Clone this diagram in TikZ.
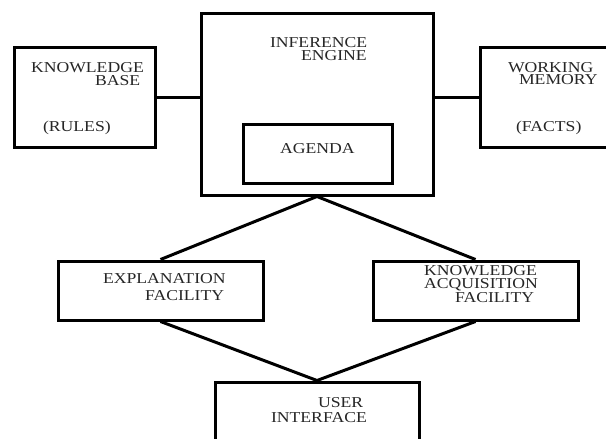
\documentclass[tikz,border=0pt]{standalone}
\usepackage{fontspec}
\newfontfamily\lblfont[FakeStretch=1.17]{Liberation Serif}
\begin{document}
\begin{tikzpicture}[x=1pt, y=-1pt,
  box/.style={draw=black, line width=3pt, rectangle, inner sep=0pt, fill=none},
  link/.style={draw=black, line width=3pt},
  txt/.style={anchor=base west, inner sep=0pt, outer sep=0pt,
    text height=10pt, text depth=0pt,
    font=\lblfont\fontsize{15.1}{15}\selectfont, text=black!85}]
  \useasboundingbox (0,0) rectangle (606,439);
  \clip (0,0) rectangle (606,439);
  \fill[white] (0,0) rectangle (606,439);

  % boxes
  \node[box, minimum width=141pt, minimum height=100pt] (kb)  at (84.5,97) {};
  \node[box, minimum width=232pt, minimum height=182pt] (ie)  at (317,104) {};
  \node[box, minimum width=142pt, minimum height=100pt] (wm)  at (551,97) {};
  \node[box, minimum width=149pt, minimum height=59pt]  (ag)  at (317.5,153.5) {};
  \node[box, minimum width=205pt, minimum height=59pt]  (ex)  at (160.5,290.5) {};
  \node[box, minimum width=205pt, minimum height=59pt]  (kaf) at (475.5,290.5) {};
  \node[box, minimum width=204pt, minimum height=80pt]  (ui)  at (317,422) {};

  % connectors
  \draw[link] (kb.east) -- (kb.east -| ie.west);
  \draw[link] (ie.east |- wm.west) -- (wm.west);
  \draw[link, line join=miter] (ex.north) -- (ie.south) -- (kaf.north);
  \draw[link, line join=miter] (ex.south) -- (ui.north) -- (kaf.south);

  % labels
  \node[txt] (t1)  at (270,47)  {INFERENCE};
  \node[txt] (t2)  at (301,60)  {ENGINE};
  \node[txt] (t3)  at (31,72)   {KNOWLEDGE};
  \node[txt] (t4)  at (95,85)   {BASE};
  \node[txt] (t5)  at (43,131)  {(RULES)};
  \node[txt] (t6)  at (508,72)  {WORKING};
  \node[txt] (t7)  at (519,84)  {MEMORY};
  \node[txt] (t8)  at (516,131) {(FACTS)};
  \node[txt] (t9)  at (280,153) {AGENDA};
  \node[txt] (t10) at (103,283) {EXPLANATION};
  \node[txt] (t11) at (145,300) {FACILITY};
  \node[txt] (t12) at (424,275) {KNOWLEDGE};
  \node[txt] (t13) at (424,288) {ACQUISITION};
  \node[txt] (t14) at (455,302) {FACILITY};
  \node[txt] (t15) at (318,407) {USER};
  \node[txt] (t16) at (271,422) {INTERFACE};
\end{tikzpicture}
\end{document}
